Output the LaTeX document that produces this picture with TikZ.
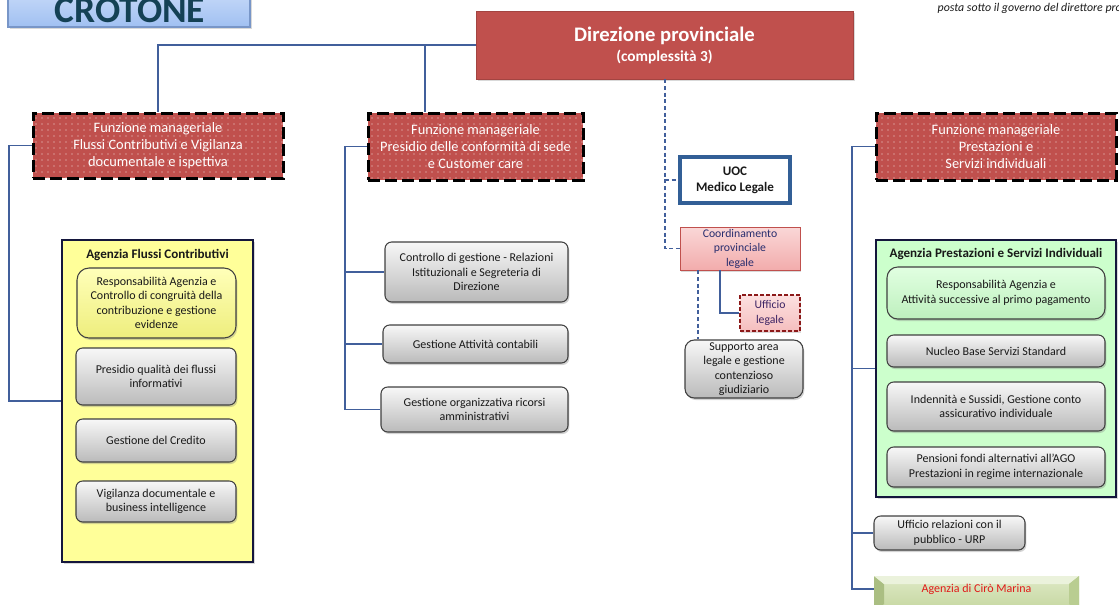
\documentclass[tikz,border=0pt]{standalone}
\usepackage{fontspec}
\setmainfont{Carlito}
\usetikzlibrary{shadows,patterns.meta,calc}
\definecolor{fred}{RGB}{192,80,77}
\definecolor{lnblue}{RGB}{65,95,155}
\definecolor{boxline}{RGB}{20,22,60}
\definecolor{ylw}{RGB}{255,255,153}
\definecolor{grn}{RGB}{204,255,204}
\definecolor{txt}{RGB}{25,25,25}
\definecolor{bevA}{RGB}{170,190,130}
\definecolor{bevB}{RGB}{235,242,220}
\definecolor{bevC}{RGB}{185,205,145}
\begin{document}
\begin{tikzpicture}[x=0.75pt,y=-0.75pt,
  px/.style 2 args={minimum width=#1*0.75pt, minimum height=#2*0.75pt, inner sep=0pt},
  conn/.style={draw=lnblue, line width=0.9pt},
  dconn/.style={draw=lnblue, line width=0.9pt, dash pattern=on 3pt off 2pt},
  fbox/.style={draw=black, line width=2.25pt, dash pattern=on 9pt off 3.75pt,
     preaction={fill=fred}, pattern={Dots[distance=4.5pt,radius=0.45pt]}, pattern color=white!80!fred,
     text=white, font=\fontsize{10.8}{12.9}\selectfont, align=center},
  gbox/.style={draw=black!75, line width=0.8pt, rounded corners=5pt, top color=black!3, bottom color=black!27,
     drop shadow={opacity=0.35, shadow xshift=1pt, shadow yshift=-1.5pt},
     text=txt, font=\fontsize{9}{10.9}\selectfont, align=center},
  agbox/.style={draw=boxline, line width=1.6pt, drop shadow={opacity=0.3, shadow xshift=1.5pt, shadow yshift=-1.5pt}},
  ttl/.style={font=\bfseries\fontsize{9.8}{11}\selectfont, text=txt}
]
\useasboundingbox (0,0) rectangle (1119,604);
\clip (0,0) rectangle (1119,604);

% CROTONE header
\node[draw={rgb,255:red,120;green,150;blue,200}, line width=0.8pt, top color={rgb,255:red,225;green,235;blue,252}, bottom color={rgb,255:red,160;green,192;blue,242}, px={242}{60}, drop shadow={opacity=0.3, shadow xshift=1.5pt, shadow yshift=-1.5pt}] (crt) at (129,-3) {};
\node[anchor=base, font=\bfseries\fontsize{28}{28}\selectfont, text={rgb,255:red,20;green,65;blue,85}] (crtt) at (130,22) {CROTONE};
\node[anchor=base west, font=\itshape\fontsize{8.9}{10}\selectfont, text=txt] (note) at (933,11) {posta sotto il governo del direttore pro};

% Direzione
\node[fill=fred, draw=fred!85!black, line width=0.6pt, px={377}{68}, align=center, text=white,
  drop shadow={opacity=0.3, shadow xshift=1.5pt, shadow yshift=-1.5pt}] (dir) at (664.5,45)
  {{\bfseries\fontsize{15.5}{17}\selectfont Direzione provinciale}\\[3pt]{\bfseries\fontsize{11.5}{14}\selectfont (complessità 3)}};

% Funzioni manageriali
\node[fbox, px={250}{65}] (f1) at (158,145.5) {Funzione manageriale\\Flussi Contributivi e Vigilanza\\documentale e ispettiva};
\node[fbox, px={215}{67}] (f2) at (475.5,146.5) {Funzione manageriale\\Presidio delle conformità di sede\\e Customer care};
\node[fbox, px={240}{67}] (f3) at (996,146.5) {Funzione manageriale\\Prestazioni e\\Servizi individuali};

% Agenzia Flussi Contributivi
\node[agbox, fill=ylw, px={191}{322}] (yel) at (157.5,401) {};
\node[ttl] (yelt) at (157.5,255) {Agenzia Flussi Contributivi};
\node[gbox, rounded corners=9pt, top color={rgb,255:red,255;green,255;blue,185}, bottom color={rgb,255:red,238;green,238;blue,125}, px={159}{70}] (yr) at (156.5,303) {Responsabilità Agenzia e\\Controllo di congruità della\\contribuzione e gestione\\evidenze};
\node[gbox, px={160}{57}] (yp) at (156,376.5) {Presidio qualità dei flussi\\informativi};
\node[gbox, px={160}{43}] (yc) at (156,440.5) {Gestione del Credito};
\node[gbox, px={160}{41}] (yv) at (156,501.5) {Vigilanza documentale e\\business intelligence};

% Presidio boxes
\node[gbox, px={183}{60}] (ctrl) at (476.5,272) {Controllo di gestione - Relazioni\\Istituzionali e Segreteria di\\Direzione};
\node[gbox, px={185}{38}] (gac) at (475.5,344) {Gestione Attività contabili};
\node[gbox, px={187}{45}] (gor) at (474.5,409.5) {Gestione organizzativa ricorsi\\amministrativi};

% Legal column
\node[draw={rgb,255:red,50;green,95;blue,150}, line width=2.4pt, fill=white, px={110}{46}, align=center,
  font=\bfseries\fontsize{9.8}{11.8}\selectfont, text=txt,
  drop shadow={opacity=0.3, shadow xshift=1pt, shadow yshift=-1.5pt}] (uoc) at (735,180) {UOC\\Medico Legale};
\node[draw=fred, line width=0.7pt, top color={rgb,255:red,250;green,215;blue,215}, bottom color={rgb,255:red,242;green,172;blue,172},
  px={120}{43}, align=center, font=\fontsize{8.8}{10.9}\selectfont, text={rgb,255:red,40;green,45;blue,110},
  drop shadow={opacity=0.3, shadow xshift=1pt, shadow yshift=-1.5pt}] (coord) at (740,248.5) {Coordinamento\\provinciale\\legale};
\node[draw={rgb,255:red,140;green,25;blue,25}, line width=1.6pt, dash pattern=on 3pt off 1.5pt,
  top color={rgb,255:red,252;green,225;blue,225}, bottom color={rgb,255:red,245;green,190;blue,190},
  px={60}{36}, align=center, font=\fontsize{8.8}{10.9}\selectfont, text={rgb,255:red,60;green,35;blue,100},
  drop shadow={opacity=0.3, shadow xshift=1pt, shadow yshift=-1.5pt}] (uff) at (770,313) {Ufficio\\legale};
\node[gbox, rounded corners=7pt, px={118}{58}] (supp) at (744,369) {Supporto area\\legale e gestione\\contenzioso\\giudiziario};

% Agenzia Prestazioni
\node[agbox, fill=grn, px={240}{257}] (grn) at (996,368.5) {};
\node[ttl] (grnt) at (996,254) {Agenzia Prestazioni e Servizi Individuali};
\node[gbox, rounded corners=8pt, top color={rgb,255:red,225;green,255;blue,225}, bottom color={rgb,255:red,190;green,240;blue,190}, px={218}{52}] (gr1) at (996,293) {Responsabilità Agenzia e\\Attività successive al primo pagamento};
\node[gbox, px={218}{32}] (gr2) at (996,351) {Nucleo Base Servizi Standard};
\node[gbox, px={218}{49}] (gr3) at (996,406.5) {Indennità e Sussidi, Gestione conto\\assicurativo individuale};
\node[gbox, px={218}{40}] (gr4) at (996,467) {Pensioni fondi alternativi all’AGO\\Prestazioni in regime internazionale};

\node[gbox, px={151}{34}] (urp) at (949.5,533) {Ufficio relazioni con il\\pubblico - URP};

% Agenzia di Ciro Marina (bevel)
\coordinate (cA) at (874,576);
\coordinate (cB) at (1079,612);
\fill[top color={rgb,255:red,222;green,233;blue,198}, bottom color={rgb,255:red,196;green,214;blue,158}] (cA) rectangle (cB);
\fill[bevA] (874,576) -- (884,584) -- (884,604) -- (874,612) -- cycle;
\fill[bevB] (874,576) -- (1079,576) -- (1069,584) -- (884,584) -- cycle;
\fill[bevC] (1079,576) -- (1069,584) -- (1069,604) -- (1079,612) -- cycle;
\node[px={205}{26}, font=\fontsize{9}{11}\selectfont, text={rgb,255:red,225;green,25;blue,25}] (ciro) at (976.5,589) {Agenzia di Cirò Marina};

% Connectors
\coordinate (j1) at (9,0);
\coordinate (j2) at (425,0);
\coordinate (j3) at (345,0);
\coordinate (j4) at (852,0);
\coordinate (jd) at (665,0);
\coordinate (jc1) at (720,0);
\coordinate (jc2) at (698,0);
\draw[conn] (dir.west) -| (f1.north);
\draw[conn] (dir.west -| j2) -- (j2 |- f2.north);
\draw[conn] (f1.west) -- (f1.west -| j1) |- (yel.west);
\draw[conn] (f2.west) -- (f2.west -| j3) |- (ctrl.west);
\draw[conn] (gac.west -| j3) -- (gac.west);
\draw[conn] (f2.west -| j3) |- (gor.west);
\draw[conn] (f3.west) -- (f3.west -| j4) |- (ciro.west);
\draw[conn] (grn.west -| j4) -- (grn.west);
\draw[conn] (urp.west -| j4) -- (urp.west);
\draw[dconn] (dir.south -| jd) |- (coord.west);
\draw[dconn] (uoc.west -| jd) -- (uoc.west);
\draw[conn] (coord.south -| jc1) |- (uff.west);
\draw[dconn] (coord.south -| jc2) -- (supp.north -| jc2);
\end{tikzpicture}
\end{document}
